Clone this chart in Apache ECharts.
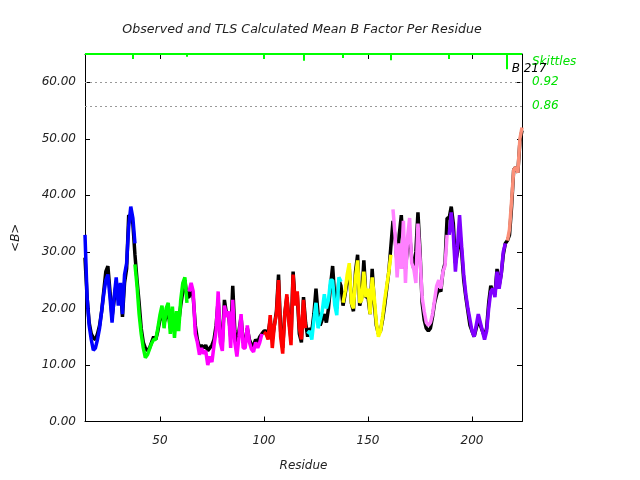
<!DOCTYPE html>
<html><head><meta charset="utf-8">
<script src="https://cdn.jsdelivr.net/npm/echarts@6/dist/echarts.min.js"></script>
<style>html,body{margin:0;padding:0;background:#fff}#c{width:640px;height:480px}</style>
</head><body><div id="c"></div>
<script>
// ---- data ----
const residueStart = 14;
const observed = [
 29,22,17.5,15.5,14.8,14.5,15.5,17,19.5,23,26.5,27.5,23,18.5,21.5,24.5,21.5,24,18.5,24.5,27,36.5,36,35,29.5,
 25,21,16.5,14,13,12.5,13,14,15,14.5,16,18,19,17.5,18.5,19.5,16.5,19,16,18.5,17.5,20.5,23,25,22,
 22,24,22,17,14.5,13,13.5,13,13.5,12.5,13,13.5,14.5,17,21.5,15,14,21.5,19,19,15,24,16,13.5,16,18.5,14,14,16.5,14.5,13.5,13.5,14.5,14,15,15.5,
 16,16,15.5,18,14.5,17,19.5,26,16,13,19,22,18,14.5,26.5,21,22.5,15.5,14,22,17.5,
 15,16.5,16,19,23.5,19,17,18,19,17.5,20,24,27.5,22,20,25,24,
 20.5,22.5,25,27,21,19.5,26.5,29.5,20.5,22,28.5,22,22,19,27,21,17,15.5,16,18,20.5,23.5,26.5,31,
 35.5,32.5,28,33,36.5,30,27,31,33,29,27,30,37,30,21,18,16.5,16,16.5,18.5,21,22.5,23.5,23,26.5,28,36,
 36,38,35,28,30,34,30,25,22,19.5,17,16,15,16.5,18,17,16,15,16.5,21,24,23,22.5,27,24,26,29.5,31.5,
 32,33,38,44.5,45,44,49.5,51.5
];
const tlsBlue    = [33,22,17,14.5,12.6,13,14.5,16.5,19.5,22.5,25,26,22,17.5,22,25.5,20.5,24.5,19,26,28,34.5,38,36,31.5];
const tlsGreen   = [27.8,24,19,15.5,13,11.3,11.8,12.8,13.8,14.5,14.5,16.5,18.8,20.5,16.5,20,21,15.5,20.3,14.8,19.5,16,21.5,24.5,25.5,21];
const tlsMagenta = [23,24.5,23,15.5,14,11.8,13,12,12.5,10,11.5,10.5,13.5,16,23,14,12.5,20.5,18.5,19.5,13,21.5,14,11.5,15,19,13,13,17,14,12.8,12.3,14,13,14,15.5];
const tlsRed     = [15.8,15.5,14.5,18.8,13,17,19,25,15,12,19,22.5,17.5,13.5,26,20.5,23,16.5,14.5,21.5,16.5];
const tlsCyan    = [15.5,16,14.5,18,21,16.5,18,19.5,22.5,20,21.5,25,25,20.6,18.8,25.5,24.7];
const tlsYellow  = [21,23,26,28,21,20,25.5,28.5,21,21.5,26.5,22,23.5,19,25.5,22,17.5,15,16,18.5,21.5,24,26.5,29.5];
const tlsPink    = [37.5,33,25.5,31.5,27,35.5,24.5,32.5,36,28,27,24.5,35,29,22,19.5,17.5,17,17.5,19,21.5,24,25,23.5,26.5,27.5,33];
const tlsPurple  = [33,37,33,26.5,31,36.5,31,26,22.5,20,18,16,15,17,19,17.5,16,14.5,16,20,23,23.5,22,26.5,23.5,26,30,31.5];
const tlsSalmon  = [32,34,39,44.5,45,44,50,52];
const groupStarts = [14,38,64,100,121,138,162,189,217];
const groupColors = ['#0000ff','#00ff00','#ff00ff','#ff0000','#00ffff','#ffff00','#ff80ff','#8000ff','#fa8f78'];
const groupValues = [tlsBlue,tlsGreen,tlsMagenta,tlsRed,tlsCyan,tlsYellow,tlsPink,tlsPurple,tlsSalmon];
const xTickValues = [50,100,150,200];
const boundaries = [36.9,62.9,100,118.9,138.1,160.9,188.9,216.6];
const boundaryEnds = [64.1,64.5,64.1,63.8,64.3,63.9,64.1,62.3];
const skittleLevels = [60,55.8];
const skittleLabels = ['0.92','0.86'];

// ---- chart ----
const FONT = 'DejaVu Sans';
const chart = echarts.init(document.getElementById('c'), null, {renderer:'canvas'});
const pairs = (arr, start) => arr.map((v,i)=>[start+i, v]);
const series = [];
series.push({type:'line', name:'Observed', data:pairs(observed, residueStart), showSymbol:false, symbol:'none',
  lineStyle:{color:'#000', width:3.5}, itemStyle:{color:'#000'}, z:2, clip:true});
groupValues.forEach((arr,k)=>{
  series.push({type:'line', name:'TLS'+k, data:pairs(arr, groupStarts[k]), showSymbol:false, symbol:'none',
    lineStyle:{color:groupColors[k], width:3.5}, itemStyle:{color:groupColors[k]}, z:3, clip:true});
});
const greenTxt = {color:'#00e000', fontStyle:'italic', fontFamily:FONT, fontSize:12};
series.push({type:'line', data:[], z:5,
  markLine:{silent:true, symbol:['none','none'], animation:false,
    data:[
      {yAxis:65, lineStyle:{color:'#00ff00', width:2, type:'solid'}, label:{show:false}},
      {yAxis:63.6, lineStyle:{color:'rgba(255,255,255,0)', width:1, type:'solid'}, label:Object.assign({show:true, position:'end', distance:10, formatter:'Skittles'}, greenTxt)},
      ...skittleLevels.map((lv,i)=>({yAxis:lv, lineStyle:{color:'#999', width:1, type:[2,3]},
        label:Object.assign({show:true, position:'end', distance:10, formatter:skittleLabels[i]}, greenTxt)})),
      ...boundaries.map((b,i)=>[{coord:[b,65], lineStyle:{color:'#00ff00', width:2, type:'solid'}, label:{show:false}},{coord:[b,boundaryEnds[i]]}])
    ]},
  markPoint:{silent:true, animation:false, data:[{coord:[218.8,62.3], symbol:'circle', symbolSize:1, itemStyle:{color:'rgba(0,0,0,0)'},
    label:{show:true, position:'right', distance:0, formatter:'B 217', color:'#000', fontStyle:'italic', fontFamily:FONT, fontSize:12}}]}
});

const axisTxt = {color:'#222', fontStyle:'italic', fontFamily:FONT, fontSize:12};
chart.setOption({
  animation:false,
  backgroundColor:'#fff',
  title:{text:'Observed and TLS Calculated Mean B Factor Per Residue', left:297, top:18, textAlign:'center',
    textStyle:{color:'#222', fontStyle:'italic', fontWeight:'normal', fontFamily:FONT, fontSize:12.6}},
  grid:{left:85, right:118, top:54, bottom:58.5},
  xAxis:[
    {type:'value', position:'bottom', min:14, max:224,
      axisLine:{show:true, onZero:false, lineStyle:{color:'#000', width:1}},
      axisTick:{show:true, inside:true, length:5, customValues:xTickValues, lineStyle:{color:'#000'}},
      axisLabel:Object.assign({show:true, margin:13, customValues:xTickValues}, axisTxt),
      splitLine:{show:false},
      name:'Residue', nameLocation:'middle', nameGap:38, nameTextStyle:axisTxt},
    {type:'value', position:'top', min:14, max:224,
      axisLine:{show:true, onZero:false, lineStyle:{color:'#000', width:1}},
      axisTick:{show:true, inside:true, length:5, customValues:xTickValues, lineStyle:{color:'#000'}},
      axisLabel:{show:false}, splitLine:{show:false}}
  ],
  yAxis:[
    {type:'value', position:'left', min:0, max:65, interval:10,
      axisLine:{show:true, onZero:false, lineStyle:{color:'#000', width:1}},
      axisTick:{show:true, inside:true, length:5, lineStyle:{color:'#000'}},
      axisLabel:Object.assign({show:true, margin:9, formatter:v=> v>60.5 ? '' : v.toFixed(2)}, axisTxt),
      splitLine:{show:false},
      name:'<B>', nameLocation:'middle', nameGap:63, nameRotate:90, nameTextStyle:axisTxt},
    {type:'value', position:'right', min:0, max:65, interval:10,
      axisLine:{show:true, onZero:false, lineStyle:{color:'#000', width:1}},
      axisTick:{show:true, inside:true, length:5, lineStyle:{color:'#000'}},
      axisLabel:{show:false}, splitLine:{show:false}}
  ],
  series: series
});
</script></body></html>
